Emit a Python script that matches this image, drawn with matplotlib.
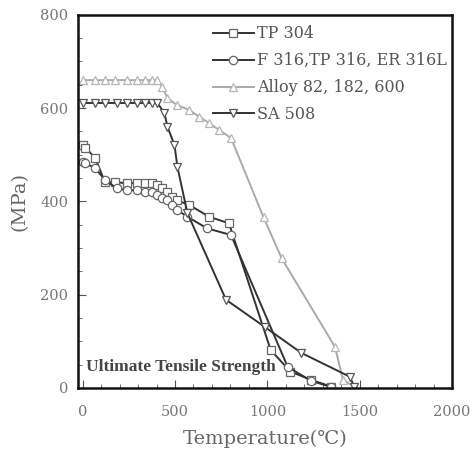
import matplotlib.pyplot as plt
from matplotlib.ticker import MultipleLocator

plt.rcParams['font.family'] = ['DejaVu Serif', 'Noto Sans CJK KR']

# TP 304
tp304_t = [0, 15, 68, 121, 175, 239, 292, 335, 373, 405, 432, 459, 486, 513, 578, 685, 792,
           1018, 1125, 1237, 1345]
tp304_s = [521, 515, 493, 441, 441, 439, 439, 439, 439, 435, 428, 420, 409, 402, 392, 367, 353,
           81, 35, 17, 3]

# F 316, TP 316, ER 316L
f316_t = [0, 15, 68, 121, 185, 239, 292, 335, 373, 400, 432, 459, 486, 513, 567, 674, 803,
          1110, 1237, 1345]
f316_s = [484, 482, 471, 446, 428, 424, 424, 420, 420, 414, 407, 402, 392, 381, 367, 342, 328,
          45, 15, 2]

# Alloy 82, 182, 600
alloy_t = [0, 68, 121, 175, 239, 292, 335, 373, 405, 432, 459, 513, 578, 632, 685, 739, 803,
           979, 1077, 1366, 1409, 1470]
alloy_s = [660, 660, 660, 660, 660, 660, 660, 660, 660, 645, 621, 606, 596, 581, 568, 553, 536,
           366, 278, 88, 17, 3]

# SA 508
sa508_t = [0, 68, 121, 185, 239, 292, 335, 373, 405, 443, 459, 497, 513, 567, 776,
           985, 1184, 1446, 1470]
sa508_s = [611, 611, 611, 611, 611, 611, 611, 611, 611, 589, 560, 521, 474, 375, 189,
           131, 75, 24, 3]

fig = plt.figure(figsize=(4.7, 4.5), dpi=100)
ax = fig.add_axes([0.166, 0.138, 0.796, 0.829])

dark = '#333333'
light = '#aaaaaa'
mk = dict(markersize=6, markerfacecolor='white', markeredgewidth=0.9, linewidth=1.4)

ax.plot(tp304_t, tp304_s, color=dark, marker='s', label='TP 304', markeredgecolor='#666666', **mk)
ax.plot(f316_t, f316_s, color=dark, marker='o', label='F 316,TP 316, ER 316L', markeredgecolor='#666666', **mk)
ax.plot(alloy_t, alloy_s, color=light, marker='^', label='Alloy 82, 182, 600', markeredgecolor='#b5b5b5', **mk)
ax.plot(sa508_t, sa508_s, color=dark, marker='v', label='SA 508', markeredgecolor='#555555', **mk)

ax.set_xlim(-25, 2000)
ax.set_ylim(0, 800)
ax.xaxis.set_major_locator(MultipleLocator(500))
ax.xaxis.set_minor_locator(MultipleLocator(100))
ax.yaxis.set_major_locator(MultipleLocator(200))
ax.yaxis.set_minor_locator(MultipleLocator(50))
ax.tick_params(which='both', direction='in', colors='#555555', labelcolor='#777777', labelsize=10.5)
ax.tick_params(axis='x', which='major', length=6, pad=12)
ax.tick_params(axis='y', which='major', length=6, pad=7)
ax.tick_params(which='minor', length=3)
for sp in ax.spines.values():
    sp.set_linewidth(1.8)
    sp.set_color('#111111')

ax.set_xlabel('Temperature(℃)', fontsize=14, color='#666666', labelpad=8)
ax.set_ylabel('(MPa)', fontsize=14, color='#666666', labelpad=8)

ax.text(0.02, 0.045, 'Ultimate Tensile Strength', transform=ax.transAxes,
        fontsize=12.5, fontweight='bold', color='#444444', family='Liberation Serif')

leg = ax.legend(loc='upper left', bbox_to_anchor=(0.36, 0.972), frameon=False, borderpad=0,
                borderaxespad=0, fontsize=11.5, labelspacing=0.62, handlelength=2.6,
                handletextpad=0.2)
for t in leg.get_texts():
    t.set_color('#555555')

plt.savefig('out.png', dpi=100)
